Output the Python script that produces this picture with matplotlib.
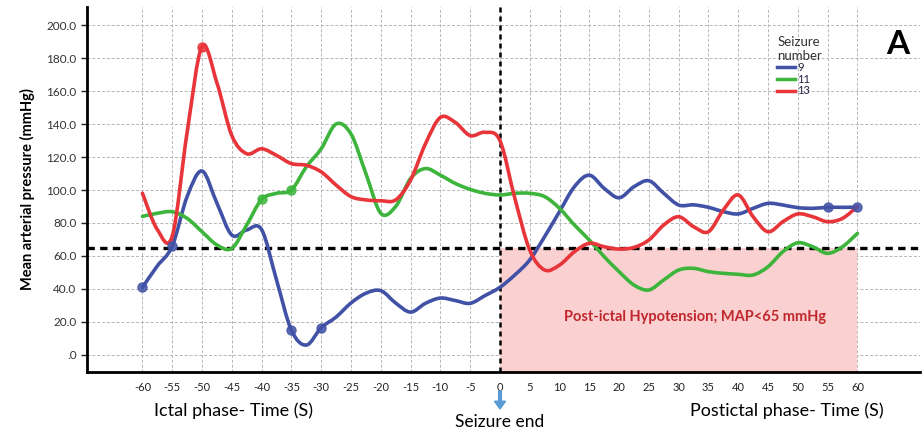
import numpy as np
import matplotlib
matplotlib.use("Agg")
import matplotlib.pyplot as plt
from matplotlib.path import Path
from matplotlib.patches import PathPatch, FancyArrow
from matplotlib.lines import Line2D

plt.rcParams['font.family'] = ['Lato', 'DejaVu Sans']

# time (s) relative to seizure end, read every 2.5 s
times = np.arange(-60, 60.1, 2.5)

map_9 = [41, 54, 66, 96, 111.5, 92, 72.7, 75.8, 76, 45.5, 15, 6, 16.5, 23, 31.5,
         37.4, 39, 31.5, 26, 31.3, 34.5, 33, 31.3, 36, 41, 48.5, 57.6, 71.7,
         86.9, 102, 109, 101, 95.3, 102, 105.6, 98, 90.9, 91, 89.5, 86.9, 85.5,
         88.9, 91.9, 90.9, 89.3, 88.9, 89.5, 89.5, 89.6]
map_11 = [84, 85.9, 86.8, 82.8, 74.7, 66.7, 64.6, 78.8, 94.3, 98, 100, 114, 125,
          140, 134, 110, 85.9, 90, 107, 113, 109, 104, 100.4, 98, 97, 98, 98, 96,
          88.9, 78.8, 69.7, 59.6, 50.5, 42.4, 39.4, 45.5, 51.5, 52.5, 50.5, 49.5,
          48.9, 48.5, 53.5, 62.6, 68, 65.6, 61.6, 65.6, 73.7]
map_13 = [98, 76, 72, 135, 187, 165, 133, 122, 125, 121, 116, 115, 111, 103, 96,
          94, 93.5, 94, 106, 128, 144, 141, 133, 135, 130, 95, 63.6, 51.5, 54.5,
          62.6, 67.7, 65.6, 64.2, 65.2, 69.7, 78.8, 83.8, 77.8, 74.7, 87.9, 97,
          83.8, 74.7, 80.8, 85.5, 83.8, 80.8, 82.8, 90]

marks_9 = [-60, -55, -35, -30, 55, 60]
marks_11 = [-40, -35]
marks_13 = [-50]

series = [("9", map_9, marks_9, "#4152a6"),
          ("11", map_11, marks_11, "#3db53d"),
          ("13", map_13, marks_13, "#e8353a")]

threshold = 65
x_ticks = np.arange(-60, 61, 5)
y_ticks = np.arange(0, 201, 20)


def smooth_path(x, y):
    # Catmull-Rom curve through the read points, drawn as cubic Beziers
    pts = np.column_stack([x, y])
    n = len(pts)
    verts = [pts[0]]
    codes = [Path.MOVETO]
    for i in range(n - 1):
        p0 = pts[i - 1] if i > 0 else pts[i]
        p3 = pts[i + 2] if i + 2 < n else pts[i + 1]
        c1 = pts[i] + (pts[i + 1] - p0) / 6
        c2 = pts[i + 1] - (p3 - pts[i]) / 6
        verts += [c1, c2, pts[i + 1]]
        codes += [Path.CURVE4] * 3
    return Path(verts, codes)


fig = plt.figure(figsize=(9.23, 4.32), dpi=100)
ax = fig.add_axes([0.0943, 0.139, 0.9024, 0.845])
ax.set_xlim(-69.3, 70.5)
ax.set_ylim(-10.3, 211)

ax.set_yticks(y_ticks)
ax.set_yticklabels(["%.1f" % v if v else ".0" for v in y_ticks])
ax.set_xticks(x_ticks)
ax.set_xticklabels([str(v) for v in x_ticks])
ax.tick_params(axis='y', length=4, width=1, labelsize=8.5, colors='#222222',
               labelcolor='#333333')
ax.tick_params(axis='x', length=0, pad=7, labelsize=8, labelcolor='#222222')

for y in y_ticks:
    ax.axhline(y, color='#b5b5b5', lw=0.7, ls=(0, (3, 2)), zorder=0)
for x in x_ticks:
    ax.axvline(x, color='#b5b5b5', lw=0.7, ls=(0, (3, 2)), zorder=0)

for side in ['top', 'right']:
    ax.spines[side].set_visible(False)
for side in ['left', 'bottom']:
    ax.spines[side].set_linewidth(2)
    ax.spines[side].set_color('black')

# hypotension zone
ax.fill_between([0, 60], -10.3, threshold, color='#fad0d0', lw=0, zorder=1)
ax.text(32.7, 23, "Post-ictal Hypotension; MAP<65 mmHg", color='#c0272d',
        fontsize=10.5, fontweight='bold', ha='center', va='center', zorder=2)

ax.axhline(threshold, color='black', lw=2.4, ls=(0, (2.2, 1.6)), zorder=4)
ax.axvline(0, color='black', lw=1.8, ls=(0, (2, 1.6)), zorder=4)

handles = []
for name, vals, marks, col in series:
    ax.add_patch(PathPatch(smooth_path(times, vals), facecolor='none',
                           edgecolor=col, lw=2.6, capstyle='round', zorder=5))
    idx = [list(times).index(m) for m in marks]
    ax.plot(times[idx], np.array(vals)[idx], 'o', color=col, ms=6.5,
            alpha=0.85, zorder=6)
    handles.append(Line2D([], [], color=col, lw=2.5))

leg = fig.legend(handles, [s[0] for s in series], title="Seizure\nnumber",
                 loc='upper left', bbox_to_anchor=(0.836, 0.93),
                 frameon=False, fontsize=8, title_fontsize=9.5,
                 handlelength=1.6, handletextpad=0.2, labelspacing=0.05,
                 borderpad=0)
leg._legend_box.align = 'left'
leg.get_title().set_color('#333333')
for t in leg.get_texts():
    t.set_color('#222244')

ax.set_ylabel("Mean arterial pressure (mmHg)", fontsize=10.5,
              fontweight='bold', labelpad=8)

fig.text(898 / 923, 1 - 45 / 432, "A", fontsize=24, fontweight='bold',
         ha='center', va='center')
fig.text(234 / 923, 1 - 411 / 432, "Ictal phase- Time (S)", fontsize=13,
         ha='center', va='center')
fig.text(787 / 923, 1 - 411 / 432, "Postictal phase- Time (S)", fontsize=13,
         ha='center', va='center')
fig.text(500 / 923, 1 - 422 / 432, "Seizure end", fontsize=12.5,
         ha='center', va='center')
fig.patches.append(FancyArrow(
    500 / 923, 1 - 391 / 432, 0, -18 / 432, width=0.003, head_width=0.012,
    head_length=0.018, length_includes_head=True, color='#5b9bd5',
    transform=fig.transFigure, figure=fig))

fig.savefig("out.png", dpi=100)
